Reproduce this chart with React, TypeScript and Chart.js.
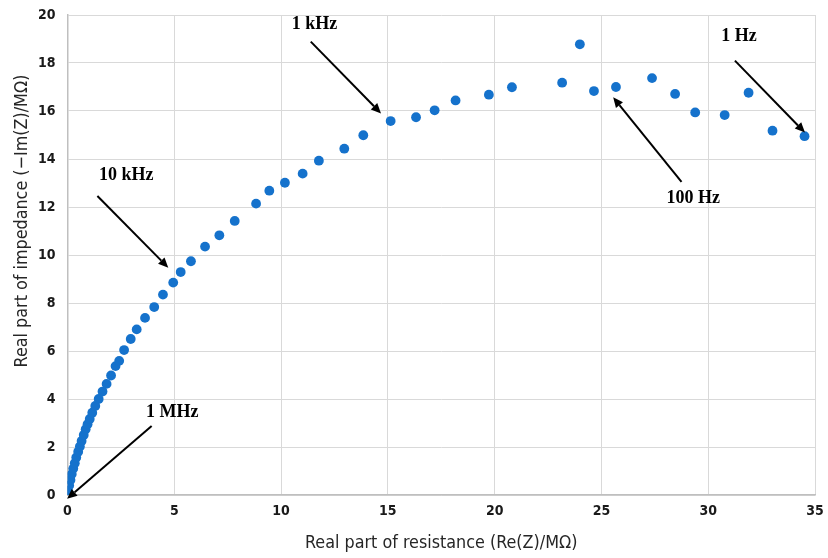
import React, { useEffect, useRef } from "react";
import { Chart, registerables } from "chart.js";

Chart.register(...registerables);

const reValues = [
  0, 0.03, 0.08, 0.14, 0.2, 0.27, 0.34, 0.41, 0.5, 0.58, 0.66, 0.76, 0.85, 0.94, 1.04, 1.16, 1.3,
  1.46, 1.64, 1.83, 2.04, 2.25, 2.42, 2.65, 2.96, 3.24, 3.63, 4.06, 4.47, 4.95, 5.3, 5.78, 6.44,
  7.11, 7.83, 8.83, 9.45, 10.18, 11.01, 11.77, 12.96, 13.85, 15.13, 16.32, 17.19, 18.17, 19.73,
  20.81, 23.16, 23.99, 24.65, 25.68, 27.37, 28.45, 29.39, 30.77, 31.89, 33.01, 34.51,
];
const imValues = [
  0, 0.18, 0.4, 0.62, 0.87, 1.1, 1.32, 1.56, 1.8, 2.02, 2.25, 2.5, 2.74, 2.95, 3.17, 3.43, 3.71,
  4.0, 4.31, 4.63, 4.98, 5.37, 5.59, 6.04, 6.5, 6.9, 7.38, 7.83, 8.35, 8.85, 9.29, 9.74, 10.35,
  10.82, 11.42, 12.14, 12.68, 13.01, 13.39, 13.93, 14.43, 14.99, 15.58, 15.74, 16.03, 16.44, 16.68,
  16.99, 17.18, 18.78, 16.83, 17.0, 17.37, 16.71, 15.94, 15.83, 16.76, 15.18, 14.95,
];

const xTitle = "Real part of resistance (Re(Z)/MΩ)";
const yTitle = "Real part of impedance (\u2212Im(Z)/MΩ)";

// frequency annotations: label, label position, arrow start, arrow end (data coordinates)
const annLabels = ["1 kHz", "1 Hz", "100 Hz", "10 kHz", "1 MHz"];
const annText = [
  [11.56, 19.6],
  [31.44, 19.1],
  [29.3, 12.36],
  [2.75, 13.3],
  [4.91, 3.46],
];
const annFrom = [
  [11.39, 18.89],
  [31.25, 18.1],
  [28.75, 13.05],
  [1.4, 12.46],
  [3.94, 2.875],
];
const annTo = [
  [14.68, 15.9],
  [34.53, 15.1],
  [25.55, 16.57],
  [4.72, 9.47],
  [-0.02, -0.16],
];

const tickFont = "'Liberation Sans Narrow', 'DejaVu Sans Condensed', 'Open Sans', sans-serif";

const overlayPlugin = {
  id: "overlay",
  afterDraw(chart: any) {
    const ctx = chart.ctx;
    const xs = chart.scales.x;
    const ys = chart.scales.y;
    const area = chart.chartArea;
    ctx.save();
    // axis titles
    ctx.fillStyle = "#262626";
    ctx.font = `17.8px ${tickFont}`;
    ctx.textAlign = "center";
    ctx.textBaseline = "middle";
    ctx.fillText(xTitle, (area.left + area.right) / 2, area.bottom + 48);
    ctx.save();
    ctx.translate(22, area.top + 206);
    ctx.rotate(-Math.PI / 2);
    ctx.fillText(yTitle, 0, 0);
    ctx.restore();

    // annotations
    ctx.fillStyle = "#000";
    ctx.strokeStyle = "#000";
    ctx.font = "bold 18px 'Liberation Serif', 'Times New Roman', serif";
    for (let i = 0; i < annLabels.length; i++) {
      const tx = xs.getPixelForValue(annText[i][0]);
      const ty = ys.getPixelForValue(annText[i][1]);
      ctx.fillText(annLabels[i], tx, ty);
      const x1 = xs.getPixelForValue(annFrom[i][0]);
      const y1 = ys.getPixelForValue(annFrom[i][1]);
      const x2 = xs.getPixelForValue(annTo[i][0]);
      const y2 = ys.getPixelForValue(annTo[i][1]);
      const ang = Math.atan2(y2 - y1, x2 - x1);
      const headLen = 10;
      const headW = 4.5;
      const bx = x2 - headLen * Math.cos(ang);
      const by = y2 - headLen * Math.sin(ang);
      ctx.lineWidth = 2;
      ctx.beginPath();
      ctx.moveTo(x1, y1);
      ctx.lineTo(bx, by);
      ctx.stroke();
      ctx.beginPath();
      ctx.moveTo(x2, y2);
      ctx.lineTo(bx + headW * Math.sin(ang), by - headW * Math.cos(ang));
      ctx.lineTo(bx - headW * Math.sin(ang), by + headW * Math.cos(ang));
      ctx.closePath();
      ctx.fill();
    }
    ctx.restore();
  },
};

export default function App() {
  const ref = useRef<HTMLCanvasElement>(null);
  useEffect(() => {
    document.body.style.margin = "0";
    const data = reValues.map((x, i) => ({ x, y: imValues[i] }));
    const chart = new Chart(ref.current as HTMLCanvasElement, {
      type: "scatter",
      data: {
        datasets: [
          {
            data,
            backgroundColor: "#1572CC",
            borderWidth: 0,
            pointRadius: 4.9,
            pointHoverRadius: 4.9,
          },
        ],
      },
      options: {
        animation: false,
        responsive: false,
        events: [],
        layout: { padding: { top: 15, right: 13, left: 0, bottom: 0 } },
        plugins: { legend: { display: false }, tooltip: { enabled: false } },
        scales: {
          x: {
            type: "linear",
            min: 0,
            max: 35,
            ticks: {
              stepSize: 5,
              padding: 8,
              color: "#1a1a1a",
              font: { family: tickFont, size: 14, weight: "bold" },
            },
            grid: { color: "#d9d9d9", drawTicks: false, lineWidth: 1 },
            border: { color: "#bfbfbf", width: 1.5 },
            afterFit: (s: any) => {
              s.height = 63;
              s.paddingLeft = 0;
              s.paddingRight = 0;
            },
          },
          y: {
            type: "linear",
            min: 0,
            max: 20,
            ticks: {
              stepSize: 2,
              padding: 12,
              color: "#1a1a1a",
              font: { family: tickFont, size: 14, weight: "bold" },
            },
            grid: { color: "#d9d9d9", drawTicks: false, lineWidth: 1 },
            border: { color: "#bfbfbf", width: 1.5 },
            afterFit: (s: any) => {
              s.width = 67.5;
              s.paddingTop = 0;
              s.paddingBottom = 0;
            },
          },
        },
      },
      plugins: [overlayPlugin],
    });
    return () => chart.destroy();
  }, []);
  return (
    <div style={{ position: "absolute", left: 0, top: 0, width: 828, height: 558 }}>
      <canvas ref={ref} width={828} height={558} />
    </div>
  );
}
